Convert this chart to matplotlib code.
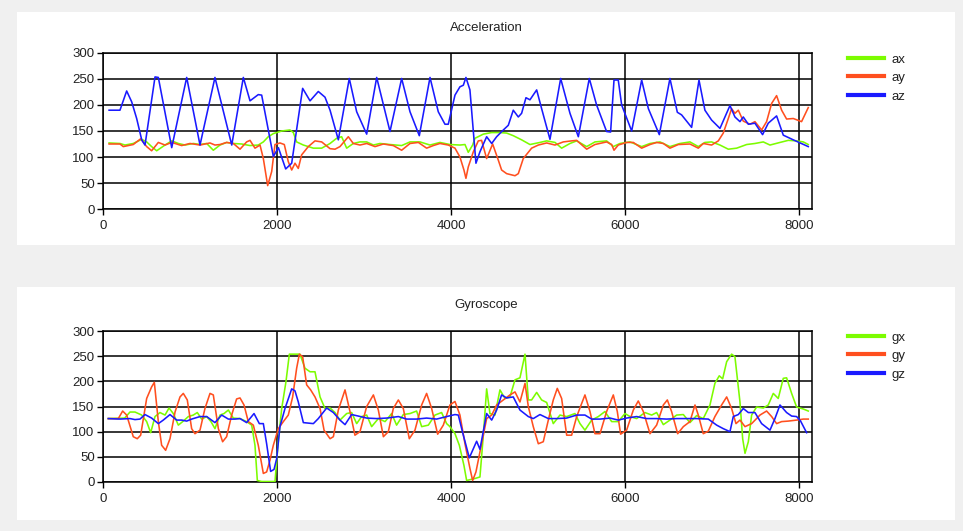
import numpy as np
import matplotlib.pyplot as plt
from matplotlib.patches import Rectangle
from matplotlib.lines import Line2D

plt.rcParams['font.family'] = ['Liberation Sans', 'DejaVu Sans']

# ---- Acceleration readings (x = sample index, y = value) ----
ax_x = [70, 195, 252, 348, 445, 502, 559, 617, 713, 790,
        866, 943, 1038, 1115, 1192, 1268, 1345, 1421, 1498, 1594,
        1690, 1785, 1843, 1900, 1958, 2054, 2149, 2188, 2226, 2303,
        2418, 2514, 2610, 2686, 2743, 2801, 2877, 2954, 3031, 3108,
        3184, 3299, 3433, 3529, 3644, 3759, 3873, 3988, 4103, 4161,
        4199, 4249, 4276, 4372, 4468, 4563, 4640, 4716, 4812, 4908,
        5023, 5100, 5196, 5272, 5368, 5445, 5560, 5655, 5789, 5866,
        5943, 6058, 6192, 6288, 6402, 6517, 6632, 6747, 6843, 6919,
        6996, 7092, 7188, 7284, 7399, 7494, 7590, 7667, 7782, 7877,
        7973, 8050, 8107]
ax_y = [127, 126, 123, 126, 134, 129, 120, 112, 123, 131,
        126, 123, 126, 124, 126, 113, 123, 128, 126, 125,
        122, 123, 129, 139, 145, 150, 152, 147, 129, 123,
        117, 117, 126, 136, 139, 117, 126, 129, 129, 123,
        126, 124, 122, 129, 129, 123, 128, 124, 123, 124,
        109, 123, 136, 144, 147, 147, 146, 141, 133, 124,
        128, 131, 128, 117, 126, 131, 120, 129, 131, 120,
        126, 129, 120, 126, 129, 120, 126, 129, 120, 128,
        129, 123, 115, 117, 124, 126, 129, 123, 128, 132,
        131, 129, 124]

ay_x = [70, 195, 233, 348, 433, 502, 559, 636, 713, 790,
        904, 1000, 1115, 1230, 1287, 1345, 1421, 1498, 1575, 1651,
        1690, 1747, 1805, 1843, 1893, 1939, 1977, 2034, 2084, 2130,
        2169, 2207, 2245, 2283, 2360, 2437, 2514, 2610, 2667, 2724,
        2820, 2877, 2954, 3031, 3127, 3223, 3337, 3433, 3529, 3625,
        3720, 3797, 3873, 3969, 4046, 4103, 4149, 4172, 4199, 4257,
        4314, 4352, 4410, 4479, 4544, 4582, 4640, 4736, 4774, 4831,
        4927, 5004, 5100, 5196, 5291, 5387, 5445, 5560, 5655, 5789,
        5847, 5874, 5923, 6019, 6096, 6192, 6288, 6364, 6441, 6517,
        6613, 6747, 6843, 6900, 6996, 7073, 7130, 7188, 7226, 7264,
        7303, 7360, 7437, 7494, 7571, 7628, 7686, 7743, 7801, 7858,
        7935, 8030, 8107]
ay_y = [125, 125, 120, 124, 135, 120, 112, 128, 123, 128,
        122, 126, 123, 127, 123, 124, 128, 126, 115, 129,
        132, 117, 123, 97, 45, 72, 124, 127, 124, 91,
        75, 88, 78, 104, 120, 131, 129, 116, 115, 120,
        139, 126, 123, 126, 120, 125, 122, 113, 126, 128,
        117, 122, 126, 123, 117, 100, 75, 59, 81, 110,
        131, 132, 97, 125, 94, 75, 68, 64, 68, 97,
        117, 123, 127, 123, 129, 131, 132, 115, 124, 129,
        124, 113, 123, 128, 128, 117, 124, 128, 126, 117,
        124, 125, 117, 126, 123, 131, 146, 174, 193, 184,
        190, 169, 163, 168, 152, 168, 203, 218, 190, 173,
        174, 168, 195]

az_x = [70, 195, 272, 330, 387, 445, 483, 598, 636, 790,
        962, 1115, 1287, 1480, 1613, 1690, 1785, 1824, 1958, 2016,
        2100, 2169, 2295, 2380, 2475, 2552, 2610, 2705, 2831, 2916,
        3031, 3146, 3299, 3433, 3529, 3636, 3759, 3854, 3931, 3969,
        4046, 4103, 4142, 4172, 4218, 4287, 4333, 4410, 4468, 4525,
        4602, 4659, 4716, 4774, 4812, 4862, 4908, 4985, 5042, 5138,
        5261, 5368, 5464, 5590, 5674, 5789, 5835, 5874, 5923, 5962,
        6077, 6192, 6269, 6395, 6517, 6602, 6651, 6766, 6851, 6919,
        6996, 7092, 7207, 7264, 7322, 7360, 7418, 7494, 7582, 7647,
        7743, 7820, 7935, 8107]
az_y = [190, 190, 227, 206, 174, 133, 123, 254, 253, 118,
        253, 123, 253, 123, 253, 208, 220, 219, 101, 118,
        77, 88, 232, 208, 226, 215, 190, 133, 251, 187,
        144, 253, 149, 251, 187, 141, 253, 187, 163, 163,
        219, 235, 238, 253, 229, 88, 110, 139, 126, 139,
        152, 161, 190, 177, 184, 214, 210, 229, 193, 134,
        251, 184, 139, 251, 200, 149, 148, 248, 248, 200,
        150, 248, 193, 143, 251, 186, 181, 157, 248, 190,
        171, 155, 199, 177, 168, 177, 163, 165, 143, 165,
        179, 142, 133, 120]

# ---- Gyroscope readings ----
gx_x = [61, 249, 310, 368, 445, 502, 548, 598, 655, 713,
        759, 808, 866, 923, 981, 1038, 1084, 1134, 1192, 1241,
        1287, 1345, 1391, 1441, 1498, 1575, 1651, 1709, 1747, 1774,
        1824, 1977, 2015, 2054, 2103, 2142, 2264, 2322, 2380, 2437,
        2495, 2552, 2610, 2667, 2724, 2801, 2858, 2916, 2973, 3031,
        3088, 3165, 3242, 3318, 3375, 3452, 3529, 3605, 3663, 3740,
        3816, 3892, 3950, 3988, 4046, 4096, 4149, 4180, 4276, 4333,
        4372, 4410, 4448, 4506, 4563, 4621, 4678, 4736, 4793, 4851,
        4889, 4927, 4985, 5042, 5100, 5176, 5253, 5330, 5425, 5483,
        5540, 5617, 5694, 5770, 5847, 5923, 6000, 6058, 6134, 6230,
        6307, 6364, 6441, 6517, 6594, 6671, 6747, 6824, 6900, 6977,
        7034, 7084, 7123, 7169, 7226, 7264, 7322, 7353, 7380, 7418,
        7456, 7513, 7590, 7647, 7705, 7762, 7820, 7858, 7916, 7973,
        8050, 8107]
gx_y = [126, 127, 139, 139, 133, 120, 98, 130, 138, 133,
        147, 136, 113, 121, 130, 133, 138, 125, 130, 120,
        106, 133, 136, 143, 127, 126, 120, 113, 73, 3,
        1, 1, 80, 146, 199, 254, 254, 226, 219, 219,
        169, 146, 147, 138, 123, 136, 138, 116, 130, 133,
        110, 126, 120, 136, 113, 134, 136, 141, 110, 113,
        133, 138, 116, 110, 96, 73, 33, 3, 7, 10,
        93, 185, 136, 133, 183, 166, 169, 203, 207, 254,
        163, 163, 178, 163, 158, 116, 133, 130, 136, 116,
        103, 123, 130, 140, 120, 120, 136, 130, 126, 138,
        133, 138, 114, 123, 133, 134, 118, 132, 126, 153,
        196, 211, 205, 239, 254, 249, 159, 86, 57, 80,
        133, 149, 147, 153, 176, 166, 206, 207, 176, 149,
        145, 141]

gy_x = [61, 176, 226, 272, 348, 394, 433, 502, 559, 590,
        636, 674, 720, 770, 828, 885, 923, 969, 1019, 1057,
        1115, 1172, 1230, 1268, 1326, 1375, 1421, 1479, 1536, 1575,
        1621, 1670, 1728, 1785, 1843, 1881, 1919, 1958, 2015, 2073,
        2130, 2180, 2226, 2257, 2295, 2341, 2387, 2437, 2495, 2541,
        2610, 2648, 2705, 2782, 2839, 2896, 2954, 3031, 3108, 3165,
        3223, 3280, 3337, 3395, 3452, 3521, 3586, 3663, 3720, 3778,
        3847, 3912, 3988, 4046, 4103, 4161, 4218, 4249, 4287, 4333,
        4410, 4468, 4525, 4602, 4678, 4736, 4793, 4851, 4889, 4946,
        5004, 5061, 5119, 5176, 5222, 5272, 5330, 5387, 5445, 5540,
        5598, 5655, 5713, 5789, 5866, 5912, 5950, 6019, 6096, 6153,
        6211, 6288, 6364, 6441, 6487, 6536, 6606, 6671, 6747, 6805,
        6843, 6900, 6958, 7034, 7111, 7169, 7226, 7276, 7322, 7380,
        7456, 7552, 7628, 7686, 7743, 7801, 7877, 7973, 8050, 8107]
gy_y = [126, 126, 141, 133, 90, 86, 93, 166, 189, 198,
        120, 73, 63, 86, 139, 169, 176, 163, 106, 96,
        103, 146, 176, 173, 106, 80, 90, 133, 165, 167,
        153, 120, 113, 73, 17, 20, 43, 73, 106, 120,
        133, 169, 226, 254, 249, 193, 183, 169, 146, 103,
        86, 90, 143, 183, 140, 93, 100, 150, 173, 143,
        90, 100, 146, 163, 146, 86, 103, 153, 176, 146,
        95, 113, 153, 160, 133, 76, 27, 3, 20, 60,
        126, 133, 153, 163, 173, 179, 159, 196, 150, 110,
        76, 80, 123, 163, 186, 166, 93, 93, 130, 173,
        140, 96, 96, 140, 173, 140, 95, 103, 143, 161,
        140, 96, 113, 153, 163, 140, 96, 110, 120, 153,
        133, 96, 101, 130, 153, 169, 146, 116, 123, 110,
        116, 133, 141, 130, 116, 120, 121, 123, 125, 125]

gz_x = [61, 195, 310, 368, 425, 483, 559, 636, 693, 770,
        847, 904, 962, 1019, 1115, 1192, 1287, 1364, 1441, 1517,
        1575, 1651, 1736, 1797, 1843, 1881, 1927, 1966, 1996, 2034,
        2092, 2169, 2207, 2245, 2303, 2418, 2475, 2571, 2648, 2724,
        2782, 2858, 2935, 3031, 3146, 3261, 3395, 3490, 3605, 3720,
        3835, 3950, 4046, 4084, 4142, 4211, 4249, 4295, 4333, 4410,
        4468, 4525, 4582, 4640, 4716, 4793, 4889, 4946, 5023, 5119,
        5215, 5330, 5445, 5540, 5617, 5713, 5828, 5923, 6019, 6134,
        6249, 6364, 6479, 6594, 6709, 6824, 6958, 7054, 7130, 7207,
        7245, 7303, 7360, 7418, 7494, 7571, 7667, 7724, 7782, 7858,
        7916, 7973, 8019, 8088]
gz_y = [126, 125, 126, 124, 125, 134, 127, 116, 123, 134,
        123, 123, 121, 125, 130, 130, 118, 133, 125, 125,
        126, 118, 136, 116, 116, 76, 21, 25, 46, 110,
        146, 185, 181, 159, 118, 116, 126, 147, 138, 123,
        114, 134, 131, 127, 126, 127, 130, 125, 125, 127,
        125, 130, 134, 133, 93, 48, 63, 81, 65, 136,
        123, 143, 173, 167, 169, 143, 130, 126, 134, 126,
        126, 127, 133, 133, 125, 125, 127, 123, 127, 130,
        126, 126, 125, 126, 126, 126, 125, 113, 106, 100,
        130, 134, 146, 138, 138, 116, 103, 126, 153, 138,
        131, 130, 121, 98]

green = '#7cfc00'
orange = '#ff4f1f'
blue = '#1a1aff'

W, H = 963, 531
fig = plt.figure(figsize=(W / 100, H / 100), dpi=100)
fig.patch.set_facecolor('#f0f0f0')


def box(x0, y0, x1, y1):
    # pixel box (top-left origin) -> figure fraction rect
    return [x0 / W, 1 - y1 / H, (x1 - x0) / W, (y1 - y0) / H]


# white chart panels
for y0, y1 in [(12, 245), (287, 520)]:
    r = box(17, y0, 955, y1)
    fig.add_artist(Rectangle((r[0], r[1]), r[2], r[3], transform=fig.transFigure,
                             facecolor='white', edgecolor='none', zorder=0))

panels = [
    (box(103, 53, 812, 209), 'Acceleration', 28, 48,
     [(ax_x, ax_y, 'ax', green), (ay_x, ay_y, 'ay', orange), (az_x, az_y, 'az', blue)]),
    (box(103, 331, 812, 482), 'Gyroscope', 305, 326,
     [(gx_x, gx_y, 'gx', green), (gy_x, gy_y, 'gy', orange), (gz_x, gz_y, 'gz', blue)]),
]

for rect, title, title_y, leg_y, series in panels:
    a = fig.add_axes(rect)
    a.set_facecolor('white')
    for xs, ys, name, c in series:
        a.plot(xs, ys, color=c, lw=1.15, label=name, zorder=3)
    a.set_xlim(0, 8150)
    a.set_ylim(0, 300)
    a.set_xticks([0, 2000, 4000, 6000, 8000])
    a.set_yticks(np.arange(0, 301, 50))
    a.grid(True, color='black', lw=1.1, zorder=1)
    a.set_axisbelow(True)
    for s in a.spines.values():
        s.set_color('black')
        s.set_linewidth(1.1)
    a.tick_params(direction='out', length=4, width=1, colors='black',
                  labelcolor='#222222', labelsize=9.5, pad=2)
    a.tick_params(axis='x', pad=4)
    fig.text(486 / W, 1 - title_y / H, title, ha='center', va='center',
             fontsize=9.5, color='#222222')
    handles = [Line2D([], [], color=c, lw=3) for _, _, _, c in series]
    fig.legend(handles, [n for _, _, n, _ in series], loc='upper left',
               bbox_to_anchor=(843 / W, 1 - leg_y / H), frameon=False,
               fontsize=9.5, handlelength=2.7, handletextpad=0.6,
               labelspacing=0.48, borderaxespad=0, labelcolor='#222222')

plt.savefig('out.png', dpi=100, facecolor=fig.get_facecolor())
